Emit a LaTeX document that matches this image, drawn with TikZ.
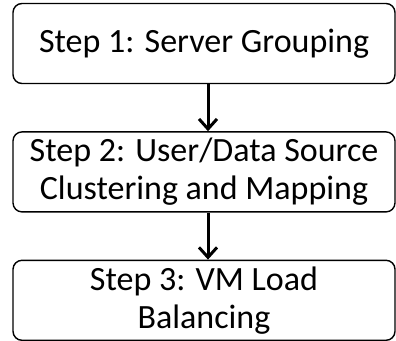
\documentclass[tikz,border=0pt]{standalone}
\usepackage{fontspec}
\setmainfont{Carlito}
\usepackage{tikz}
\usetikzlibrary{arrows.meta,positioning}

\begin{document}
\begin{tikzpicture}[
  x=1pt, y=1pt,
  node distance=47pt,
  stepbox/.style={draw, rounded corners=9pt, line width=1.4pt, minimum width=382pt,
                  minimum height=80pt, align=center, inner sep=0pt,
                  font=\fontsize{34pt}{38pt}\selectfont},
  arr/.style={-{Straight Barb[length=10pt, width=18pt, line width=3pt]}, line width=3pt}
]
\useasboundingbox (0,0) rectangle (396,-340);
\node[stepbox] (grouping) at (204,-43.5) {Step 1: Server Grouping};
\node[stepbox, below=of grouping] (clustering) {Step 2: User/Data Source\\Clustering and Mapping};
\node[stepbox, below=of clustering] (balancing) {Step 3: VM Load\\Balancing};

\draw[arr] ([xshift=4pt]grouping.south) -- ([xshift=4pt]clustering.north);
\draw[arr] ([xshift=4pt]clustering.south) -- ([xshift=4pt]balancing.north);
\end{tikzpicture}
\end{document}
